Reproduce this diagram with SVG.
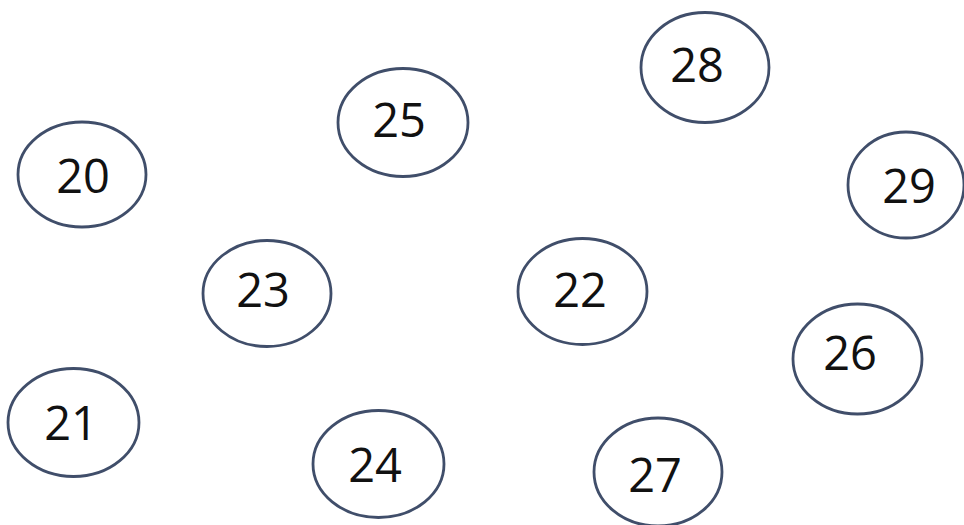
<svg xmlns="http://www.w3.org/2000/svg" width="964" height="525" viewBox="0 0 964 525">
<style>
.n ellipse{fill:none;stroke:#404e6a;stroke-width:2.8}
.n text{font-family:"Open Sans","Liberation Sans",Arial,sans-serif;font-size:47px;fill:#111;text-anchor:middle}
</style>
<rect width="964" height="525" fill="#ffffff"/>
<g id="connectors"></g>
<g id="n20" class="n"><ellipse cx="82" cy="174.5" rx="64" ry="52.5"/><text x="83" y="193">20</text></g>
<g id="n25" class="n"><ellipse cx="403" cy="122.5" rx="65" ry="54"/><text x="399" y="137">25</text></g>
<g id="n28" class="n"><ellipse cx="705" cy="67.5" rx="64" ry="55"/><text x="697" y="82">28</text></g>
<g id="n29" class="n"><ellipse cx="906" cy="185" rx="58" ry="53"/><text x="909" y="203">29</text></g>
<g id="n23" class="n"><ellipse cx="267" cy="293.5" rx="64" ry="53"/><text x="263" y="307">23</text></g>
<g id="n22" class="n"><ellipse cx="582.5" cy="291.5" rx="64.5" ry="53"/><text x="580" y="307">22</text></g>
<g id="n26" class="n"><ellipse cx="857.5" cy="359" rx="64.5" ry="55"/><text x="850" y="370">26</text></g>
<g id="n21" class="n"><ellipse cx="73.5" cy="422.5" rx="65.5" ry="54"/><text x="71" y="440">21</text></g>
<g id="n24" class="n"><ellipse cx="378.5" cy="464" rx="65.5" ry="53.5"/><text x="375" y="482">24</text></g>
<g id="n27" class="n"><ellipse cx="658" cy="472" rx="64" ry="54"/><text x="655" y="492">27</text></g>
</svg>
